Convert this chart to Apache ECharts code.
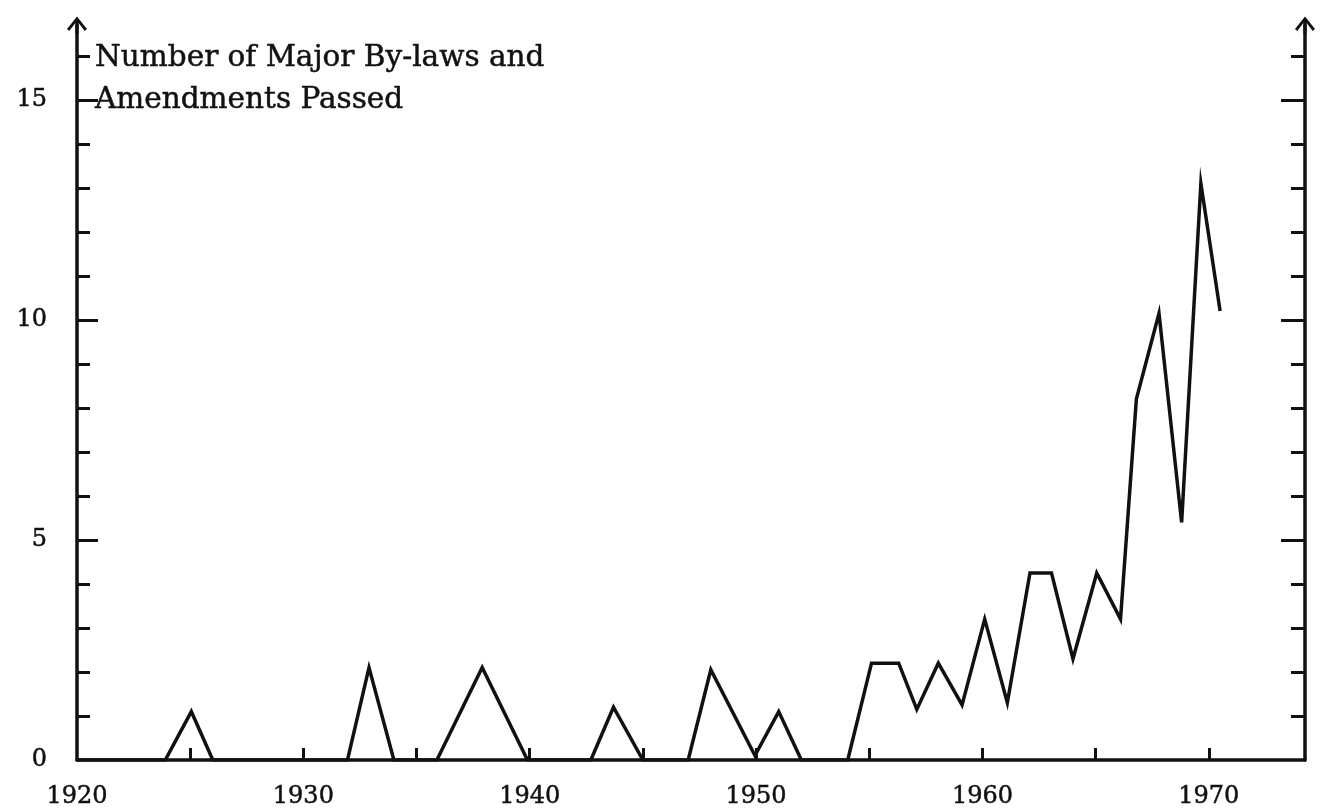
<!DOCTYPE html>
<html>
<head>
<meta charset="utf-8">
<title>Major By-laws and Amendments Passed, 1920–1971</title>
<script src="https://cdn.jsdelivr.net/npm/echarts@6/dist/echarts.min.js"></script>
<style>
  html, body { margin: 0; padding: 0; background: #ffffff; }
  #chart { width: 1320px; height: 808px; }
</style>
</head>
<body>
<div id="chart"></div>
<script>
// Year (plotted position) and number of major by-laws and amendments passed
const years = [
  1920, 1923.9, 1925.05, 1926, 1931.95, 1932.9, 1934, 1935.9, 1937.9, 1939.9,
  1942.7, 1943.7, 1945, 1947, 1948, 1949.95, 1951, 1952, 1954.05, 1955.1,
  1956.3, 1957.1, 1958.05, 1959.1, 1960.1, 1961.1, 1962.1, 1963.05, 1964, 1965.05,
  1966.1, 1966.8, 1967.8, 1968.8, 1969.65, 1970.5
];
const counts = [
  0, 0, 1.1, 0, 0, 2.1, 0, 0, 2.1, 0,
  0, 1.2, 0, 0, 2.05, 0.1, 1.1, 0, 0, 2.2,
  2.2, 1.15, 2.2, 1.25, 3.2, 1.3, 4.25, 4.25, 2.3, 4.25,
  3.2, 8.2, 10.15, 5.4, 13.1, 10.2
];

// Axis tick and label positions
const xTickYears = [1925, 1930, 1935, 1940, 1945, 1950, 1955, 1960, 1965, 1970];
const xLabelYears = [1920, 1930, 1940, 1950, 1960, 1970];
const yMajorTicks = [5, 10, 15];
const yLabelValues = [0, 5, 10, 15];

const titleLines = ['Number of Major By-laws and', 'Amendments Passed'];

const INK = '#111111';
const FONT = '"DejaVu Serif", "Liberation Serif", serif';

// Open arrow head with a short stem, pointing up
const ARROW = 'path://M10,0 L20,12.5 L17.8,14.4 L11.6,6.6 L11.6,17 L8.4,17 L8.4,6.6 L2.2,14.4 L0,12.5 Z';

const textInk = {
  fontFamily: FONT,
  color: INK,
  textBorderColor: INK,
  textBorderWidth: 0.5
};

const chart = echarts.init(document.getElementById('chart'), null, { renderer: 'canvas' });

const yAxisBase = {
  type: 'value',
  min: 0,
  max: 16.7,
  interval: 5,
  splitLine: { show: false },
  axisLine: {
    show: true,
    symbol: ['none', ARROW],
    symbolSize: [20, 17],
    lineStyle: { color: INK, width: 3.5 }
  },
  axisTick: {
    show: true,
    inside: true,
    customValues: yMajorTicks,
    lineStyle: { color: INK, width: 3 }
  },
  minorTick: {
    show: true,
    splitNumber: 5,
    lineStyle: { color: INK, width: 3 }
  }
};

const pairs = years.map((y, i) => [y, counts[i]]);

chart.setOption({
  backgroundColor: '#ffffff',
  animation: false,
  title: {
    text: titleLines.join('\n'),
    left: 95,
    top: 37,
    padding: 0,
    textStyle: Object.assign({}, textInk, {
      fontSize: 29.5,
      fontWeight: 'normal',
      lineHeight: 42
    })
  },
  grid: {
    left: 77,
    right: 15,
    top: 25,
    bottom: 48,
    containLabel: false,
    outerBoundsMode: 'none'
  },
  xAxis: {
    type: 'value',
    min: 1920,
    max: 1974.25,
    interval: 5,
    splitLine: { show: false },
    axisLine: {
      show: true,
      onZero: false,
      lineStyle: { color: INK, width: 3.5 }
    },
    axisTick: {
      show: true,
      inside: true,
      length: 12,
      customValues: xTickYears,
      lineStyle: { color: INK, width: 3 }
    },
    axisLabel: Object.assign({}, textInk, {
      show: true,
      customValues: xLabelYears,
      margin: 25,
      fontSize: 24,
      formatter: v => String(v)
    })
  },
  yAxis: [
    Object.assign({}, yAxisBase, {
      position: 'left',
      axisTick: Object.assign({}, yAxisBase.axisTick, { length: 21 }),
      minorTick: Object.assign({}, yAxisBase.minorTick, { length: 13 }),
      axisLabel: Object.assign({}, textInk, {
        show: true,
        customValues: yLabelValues,
        margin: 30,
        fontSize: 24,
        padding: [10, 0, 0, 0],
        formatter: v => String(v)
      })
    }),
    Object.assign({}, yAxisBase, {
      position: 'right',
      axisTick: Object.assign({}, yAxisBase.axisTick, { length: 24 }),
      minorTick: Object.assign({}, yAxisBase.minorTick, { length: 14 }),
      axisLabel: { show: false }
    })
  ],
  series: [{
    type: 'line',
    data: pairs,
    xAxisIndex: 0,
    yAxisIndex: 0,
    showSymbol: false,
    symbol: 'none',
    smooth: false,
    lineStyle: { color: INK, width: 3.5, join: 'miter', miterLimit: 12 },
    z: 3
  }]
});
</script>
</body>
</html>
